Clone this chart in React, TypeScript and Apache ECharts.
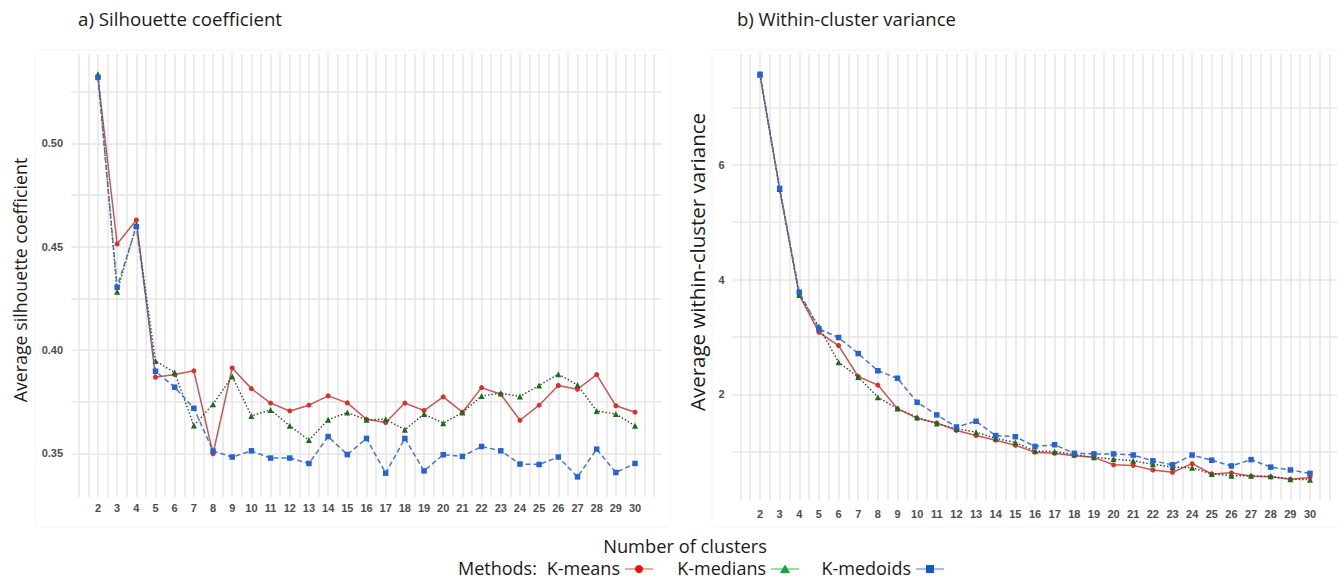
import React, { useEffect, useRef } from 'react';
import * as echarts from 'echarts';

const clusters = [2, 3, 4, 5, 6, 7, 8, 9, 10, 11, 12, 13, 14, 15, 16, 17, 18, 19, 20, 21, 22, 23, 24, 25, 26, 27, 28, 29, 30];
const methods = ['K-means', 'K-medians', 'K-medoids'];

const silKmeans = [0.532, 0.4513, 0.4629, 0.3868, 0.3881, 0.3899, 0.3498, 0.3913, 0.3813, 0.3743, 0.3705, 0.3733, 0.3778, 0.3744, 0.3665, 0.3649, 0.3743, 0.3707, 0.3773, 0.3699, 0.3818, 0.3786, 0.366, 0.3733, 0.3828, 0.381, 0.3881, 0.373, 0.3699];
const silKmedians = [0.5335, 0.4282, 0.4605, 0.3947, 0.3891, 0.3634, 0.3738, 0.3872, 0.3681, 0.371, 0.3633, 0.3564, 0.3662, 0.3697, 0.3662, 0.3665, 0.3614, 0.369, 0.3646, 0.3697, 0.3777, 0.3791, 0.3775, 0.3828, 0.3883, 0.3831, 0.3705, 0.369, 0.3633];
const silKmedoids = [0.5319, 0.4304, 0.4597, 0.3897, 0.382, 0.3718, 0.3511, 0.3482, 0.3512, 0.3477, 0.3477, 0.3451, 0.3581, 0.3494, 0.3572, 0.3404, 0.3572, 0.3415, 0.3493, 0.3485, 0.3533, 0.3512, 0.3448, 0.3446, 0.3482, 0.3386, 0.352, 0.3407, 0.3451];

const varKmeans = [7.57, 5.58, 3.73, 3.08, 2.85, 2.31, 2.16, 1.75, 1.58, 1.5, 1.37, 1.28, 1.2, 1.11, 0.99, 0.97, 0.93, 0.9, 0.77, 0.76, 0.68, 0.64, 0.79, 0.61, 0.63, 0.57, 0.56, 0.52, 0.55];
const varKmedians = [7.57, 5.58, 3.73, 3.18, 2.56, 2.3, 1.95, 1.75, 1.6, 1.49, 1.4, 1.34, 1.23, 1.16, 1.01, 1.0, 0.95, 0.9, 0.87, 0.84, 0.78, 0.73, 0.72, 0.61, 0.58, 0.58, 0.57, 0.52, 0.51];
const varKmedoids = [7.58, 5.59, 3.78, 3.14, 2.99, 2.71, 2.41, 2.28, 1.86, 1.64, 1.43, 1.53, 1.28, 1.26, 1.09, 1.12, 0.97, 0.96, 0.96, 0.94, 0.84, 0.77, 0.94, 0.85, 0.75, 0.86, 0.73, 0.68, 0.62];

const silGridStep = 0.025;
const silLabelStep = 0.05;
const varGridStep = 1;
const varLabelStep = 2;

const FONT = '"Open Sans", "Noto Sans", sans-serif';
const TICK_FONT = '"Liberation Sans", Arial, sans-serif';
const GRID_COLOR = '#e6e6e6';

const seriesStyles = [
  { symbol: 'circle', size: 5, point: '#d9302a', line: '#c95650', lineType: 'solid' as any, width: 1.5 },
  { symbol: 'triangle', size: 6, point: '#1c6b1c', line: '#3c3c3c', lineType: [1.5, 2] as any, width: 1.4 },
  { symbol: 'rect', size: 5.5, point: '#2563d0', line: '#4d74c0', lineType: [5, 3] as any, width: 1.5 },
];
const legendStyles = [
  { point: '#e8120c', line: '#f2a5a3' },
  { point: '#0aa83c', line: '#98dca8' },
  { point: '#0f5cc4', line: '#a3bde6' },
];

function extent(arrs: number[][]) {
  const all = arrs.flat();
  const lo = Math.min(...all);
  const hi = Math.max(...all);
  const pad = (hi - lo) * 0.05;
  return [lo - pad, hi + pad];
}

type PanelDef = {
  x0: number; x1: number; y0: number; y1: number;
  data: number[][]; gridStep: number; labelStep: number; decimals: number;
};

function legendSymbol(i: number, cx: number, cy: number, color: string): any {
  if (i === 0) return { type: 'circle', shape: { cx, cy, r: 4 }, style: { fill: color } };
  if (i === 1) return { type: 'polygon', shape: { points: [[cx, cy - 4.5], [cx + 5, cy + 4], [cx - 5, cy + 4]] }, style: { fill: color } };
  return { type: 'rect', shape: { x: cx - 4, y: cy - 4, width: 8, height: 8 }, style: { fill: color } };
}

const App: React.FC = () => {
  const ref = useRef<HTMLDivElement>(null);

  useEffect(() => {
    if (!ref.current) return;
    const chart = echarts.init(ref.current, undefined, { renderer: 'svg' });

    const panels: PanelDef[] = [
      { x0: 71.1, x1: 661.9, y0: 54, y1: 497, data: [silKmeans, silKmedians, silKmedoids], gridStep: silGridStep, labelStep: silLabelStep, decimals: 2 },
      { x0: 732.5, x1: 1337.5, y0: 54, y1: 500, data: [varKmeans, varKmedians, varKmedoids], gridStep: varGridStep, labelStep: varLabelStep, decimals: 0 },
    ];

    const grids: any[] = [];
    const xAxes: any[] = [];
    const yAxes: any[] = [];
    const series: any[] = [];

    panels.forEach((p, pi) => {
      const xr = extent([clusters]);
      const yr = extent(p.data);
      const xpx = (v: number) => p.x0 + ((v - xr[0]) / (xr[1] - xr[0])) * (p.x1 - p.x0);
      const ypx = (v: number) => p.y1 - ((v - yr[0]) / (yr[1] - yr[0])) * (p.y1 - p.y0);
      const base = pi * 3;

      const vxMin = Math.ceil(xr[0] / 0.5) * 0.5;
      const vxMax = Math.floor(xr[1] / 0.5) * 0.5;
      const hyMin = Math.round(Math.ceil(yr[0] / p.gridStep - 1e-9) * p.gridStep * 1e6) / 1e6;
      const hyMax = Math.round(Math.floor(yr[1] / p.gridStep + 1e-9) * p.gridStep * 1e6) / 1e6;

      // data grid
      grids.push({ left: p.x0, top: p.y0, width: p.x1 - p.x0, height: p.y1 - p.y0 });
      xAxes.push({ gridIndex: base, type: 'value', min: xr[0], max: xr[1], show: false });
      yAxes.push({ gridIndex: base, type: 'value', min: yr[0], max: yr[1], show: false });

      // vertical grid lines and x labels
      grids.push({ left: xpx(vxMin), top: p.y0, width: xpx(vxMax) - xpx(vxMin), height: p.y1 - p.y0 });
      xAxes.push({
        gridIndex: base + 1, type: 'value', min: vxMin, max: vxMax, interval: 0.5,
        axisLine: { show: false }, axisTick: { show: false },
        splitLine: { show: true, lineStyle: { color: GRID_COLOR, width: 1.5 } },
        axisLabel: {
          margin: pi === 0 ? 5 : 8,
          color: '#4d4d4d', fontFamily: TICK_FONT, fontSize: 11, fontWeight: 'bold',
          formatter: (v: number) => (Number.isInteger(v) && clusters.includes(v) ? String(v) : ''),
        },
      });
      yAxes.push({ gridIndex: base + 1, type: 'value', min: 0, max: 1, show: false });

      // horizontal grid lines and y labels
      grids.push({ left: p.x0, top: ypx(hyMax), width: p.x1 - p.x0, height: ypx(hyMin) - ypx(hyMax) });
      xAxes.push({ gridIndex: base + 2, type: 'value', min: 0, max: 1, show: false });
      yAxes.push({
        gridIndex: base + 2, type: 'value', min: hyMin, max: hyMax, interval: p.gridStep,
        axisLine: { show: false }, axisTick: { show: false },
        splitLine: { show: true, lineStyle: { color: GRID_COLOR, width: 1.5 } },
        axisLabel: {
          margin: 8,
          color: '#4d4d4d', fontFamily: TICK_FONT, fontSize: 11, fontWeight: 'bold',
          formatter: (v: number) => {
            const k = v / p.labelStep;
            return Math.abs(k - Math.round(k)) < 1e-6 && Math.round(k) !== 0 ? v.toFixed(p.decimals) : '';
          },
        },
      });

      p.data.forEach((vals, si) => {
        const s = seriesStyles[si];
        series.push({
          name: methods[si],
          type: 'line',
          xAxisIndex: base,
          yAxisIndex: base,
          data: clusters.map((c, i) => [c, vals[i]]),
          symbol: s.symbol,
          symbolSize: s.size,
          showSymbol: true,
          itemStyle: { color: s.point },
          lineStyle: { color: s.line, width: s.width, type: s.lineType },
          z: 2 + si,
        });
      });
    });

    // legend keys (text right-aligned before a line+point key)
    const legendY = 568;
    const keyStarts = [625, 771, 916];
    const keyWidth = 28;
    const legendGraphics: any[] = [];
    methods.forEach((m, i) => {
      const ks = keyStarts[i];
      legendGraphics.push({
        type: 'text', x: ks - 5, y: legendY,
        style: { text: m, font: `18px ${FONT}`, fill: '#1a1a1a', textAlign: 'right', textVerticalAlign: 'middle' },
      });
      legendGraphics.push({
        type: 'line', shape: { x1: ks, y1: legendY + 1, x2: ks + keyWidth, y2: legendY + 1 },
        style: { stroke: legendStyles[i].line, lineWidth: 2 },
      });
      legendGraphics.push(legendSymbol(i, ks + keyWidth / 2, legendY + 1, legendStyles[i].point));
    });

    chart.setOption({
      animation: false,
      backgroundColor: '#ffffff',
      grid: grids,
      xAxis: xAxes,
      yAxis: yAxes,
      series,
      graphic: [
        { type: 'rect', shape: { x: 35, y: 50, width: 635, height: 477 }, style: { fill: 'none', stroke: '#f5f5f5', lineWidth: 1 }, silent: true, z: -1 },
        { type: 'rect', shape: { x: 712, y: 50, width: 640, height: 477 }, style: { fill: 'none', stroke: '#f5f5f5', lineWidth: 1 }, silent: true, z: -1 },
        { type: 'text', x: 78, y: 18, style: { text: 'a) Silhouette coefficient', font: `18.7px ${FONT}`, fill: '#1a1a1a', textVerticalAlign: 'middle' } },
        { type: 'text', x: 737, y: 18, style: { text: 'b) Within-cluster variance', font: `18.5px ${FONT}`, fill: '#1a1a1a', textVerticalAlign: 'middle' } },
        { type: 'text', x: 20, y: 280, rotation: Math.PI / 2, style: { text: 'Average silhouette coefficient', font: `17.8px ${FONT}`, fill: '#1a1a1a', textAlign: 'center', textVerticalAlign: 'middle' } },
        { type: 'text', x: 697, y: 262, rotation: Math.PI / 2, style: { text: 'Average within-cluster variance', font: `20.5px ${FONT}`, fill: '#1a1a1a', textAlign: 'center', textVerticalAlign: 'middle' } },
        { type: 'text', x: 685, y: 545.5, style: { text: 'Number of clusters', font: `18.3px ${FONT}`, fill: '#1a1a1a', textAlign: 'center', textVerticalAlign: 'middle' } },
        { type: 'text', x: 458, y: legendY, style: { text: 'Methods:', font: `18px ${FONT}`, fill: '#1a1a1a', textVerticalAlign: 'middle' } },
        ...legendGraphics,
      ],
    });

    return () => chart.dispose();
  }, []);

  return <div ref={ref} style={{ position: 'fixed', left: 0, top: 0, width: 1338, height: 581 }} />;
};

export default App;
